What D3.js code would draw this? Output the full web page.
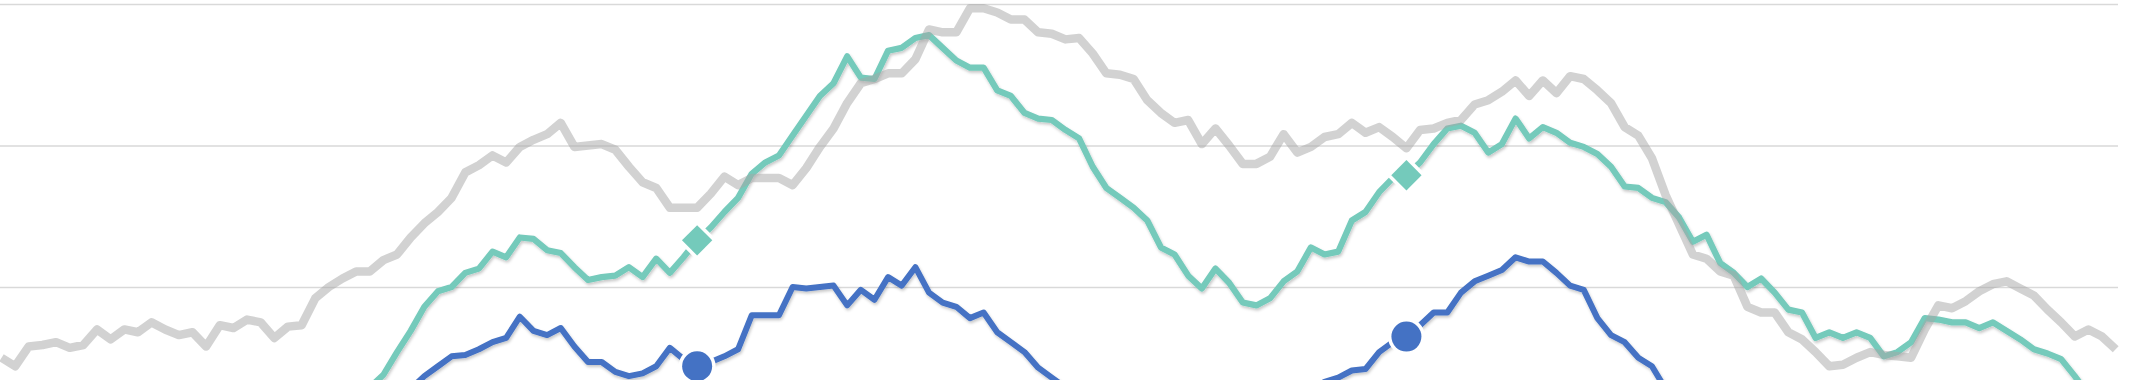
<!DOCTYPE html>
<html>
<head>
<meta charset="utf-8">
<script src="https://cdn.jsdelivr.net/npm/d3@7"></script>
<style>
    html, body { margin: 0; padding: 0; background: #fff; overflow: hidden; }
    svg { display: block; }
</style>
</head>
<body>
<svg id="chart"></svg>
<script>
// Weekly index, three years (156 weeks)
const weeks = d3.range(156);

// Grey series (previous period)
const greySeries = [
    50, 44, 58, 59, 61, 57, 59, 70, 63, 70, 68, 75, 70, 66, 68, 58, 73, 71, 77, 75,
    64, 72, 73, 92, 100, 106, 111, 111, 119, 123, 135, 145, 153, 163, 181, 186, 193, 188, 199, 204,
    208, 216, 199, 200, 201, 197, 185, 174, 170, 156, 156, 156, 166, 178, 172, 177, 177, 177, 172, 184,
    199, 212, 230, 244, 247, 251, 251, 261, 282, 280, 280, 297, 297, 294, 289, 289, 280, 279, 275, 276,
    265, 251, 250, 247, 232, 223, 216, 218, 201, 212, 200, 187, 187, 192, 208, 195, 199, 206, 208, 216,
    209, 213, 206, 198, 211, 212, 216, 218, 229, 232, 238, 246, 235, 246, 237, 249, 247, 239, 230, 213,
    207, 191, 165, 144, 123, 120, 111, 108, 86, 82, 82, 68, 63, 54, 44, 45, 50, 54, 52, 51,
    50, 70, 87, 85, 90, 97, 102, 104, 99, 94, 84, 75, 65, 70, 65, 56
];

// Teal series (diamond marker)
const tealSeries = [
    8, 7, 7, 8, 9, 9, 10, 10, 11, 10, 11, 12, 12, 11, 12, 13, 13, 14, 14, 15,
    15, 16, 16, 17, 18, 19, 20, 29, 38, 54, 69, 86, 97, 100, 110, 113, 125, 121, 135, 134,
    126, 124, 114, 105, 107, 108, 114, 107, 120, 110, 121, 133, 142, 153, 163, 180, 188, 193, 207, 221,
    235, 244, 263, 248, 247, 267, 269, 276, 278, 269, 260, 255, 255, 239, 235, 223, 219, 218, 211, 205,
    185, 170, 163, 156, 147, 128, 123, 108, 99, 113, 103, 89, 87, 92, 104, 111, 128, 123, 125, 147,
    153, 167, 177, 179, 188, 201, 212, 214, 209, 195, 201, 219, 205, 213, 209, 202, 199, 194, 185, 171,
    170, 163, 160, 149, 132, 137, 117, 110, 100, 106, 96, 84, 82, 64, 68, 64, 68, 64, 51, 54,
    61, 78, 77, 75, 75, 71, 75, 69, 63, 56, 53, 49, 37, 24, 17, 12
];

// Blue series (circle marker)
const blueSeries = [
    5, 4, 6, 8, 7, 9, 10, 8, 11, 12, 10, 13, 12, 11, 9, 10, 12, 14, 13, 15,
    14, 16, 15, 17, 18, 19, 20, 21, 23, 25, 28, 37, 44, 51, 52, 56, 61, 64, 79, 69,
    66, 71, 58, 47, 47, 40, 37, 39, 44, 57, 49, 44, 47, 51, 56, 80, 80, 80, 100, 99,
    100, 101, 87, 98, 91, 107, 101, 114, 96, 89, 86, 78, 82, 68, 61, 54, 43, 36, 29, 24,
    20, 17, 15, 13, 11, 10, 9, 9, 10, 11, 12, 13, 14, 16, 18, 20, 24, 33, 36, 41,
    42, 54, 61, 65, 73, 82, 82, 96, 104, 108, 112, 121, 118, 118, 110, 101, 98, 78, 66, 61,
    50, 44, 28, 22, 18, 15, 13, 12, 11, 10, 9, 8, 8, 7, 7, 6, 6, 6, 5, 5,
    5, 5, 6, 6, 7, 7, 8, 8, 9, 9, 10, 10, 11, 11, 12, 12
];

// Same week one year apart gets a marker
const markerWeeks = [51, 103];
const gridValues = [100, 200, 300];

const width = 2132;
const height = 380;

const svg = d3.select("#chart")
    .attr("width", width)
    .attr("height", height);

// Soft shadow under the lines
const defs = svg.append("defs");
const shadow = defs.append("filter")
    .attr("id", "shadow")
    .attr("x", "-5%").attr("y", "-20%")
    .attr("width", "110%").attr("height", "140%");
shadow.append("feDropShadow")
    .attr("dx", 1)
    .attr("dy", 2)
    .attr("stdDeviation", 1.5)
    .attr("flood-color", "#000")
    .attr("flood-opacity", 0.22);

const xScale = d3.scaleLinear()
    .domain([0, 155])
    .range([1.5, 2115.7]);

const yScale = d3.scaleLinear()
    .domain([0, 300])
    .range([428.5, 4]);

// Horizontal gridlines only
svg.append("g")
    .attr("class", "grid")
    .call(d3.axisLeft(yScale)
        .tickValues(gridValues)
        .tickSize(-2118)
        .tickFormat(""))
    .call(g => g.select(".domain").remove())
    .call(g => g.selectAll("line")
        .attr("stroke", "#d9d9d9")
        .attr("stroke-width", 1.6));

const line = d3.line()
    .x((d, i) => xScale(weeks[i]))
    .y(d => yScale(d));

// Blue first, then teal, grey sits on top (translucent)
svg.append("path")
    .datum(blueSeries)
    .attr("fill", "none")
    .attr("stroke", "#4472c4")
    .attr("stroke-width", 6)
    .attr("stroke-linejoin", "round")
    .attr("filter", "url(#shadow)")
    .attr("d", line);

svg.append("path")
    .datum(tealSeries)
    .attr("fill", "none")
    .attr("stroke", "#74cabb")
    .attr("stroke-width", 6.2)
    .attr("stroke-linejoin", "round")
    .attr("filter", "url(#shadow)")
    .attr("d", line);

svg.append("path")
    .datum(greySeries)
    .attr("fill", "none")
    .attr("stroke", "#a5a5a5")
    .attr("stroke-opacity", 0.5)
    .attr("stroke-width", 8.5)
    .attr("stroke-linejoin", "round")
    .attr("d", line);

// Markers, white halo painted behind the fill
svg.append("g")
    .selectAll("circle")
    .data(markerWeeks)
    .join("circle")
    .attr("cx", d => xScale(d))
    .attr("cy", d => yScale(blueSeries[d]))
    .attr("r", 15)
    .attr("fill", "#4472c4")
    .attr("stroke", "#fff")
    .attr("stroke-width", 7)
    .attr("paint-order", "stroke");

svg.append("g")
    .selectAll("path")
    .data(markerWeeks)
    .join("path")
    .attr("transform", d => `translate(${xScale(d)},${yScale(tealSeries[d])}) rotate(45)`)
    .attr("d", d3.symbol(d3.symbolSquare, 460))
    .attr("fill", "#74cabb")
    .attr("stroke", "#fff")
    .attr("stroke-width", 7)
    .attr("paint-order", "stroke");
</script>
</body>
</html>
